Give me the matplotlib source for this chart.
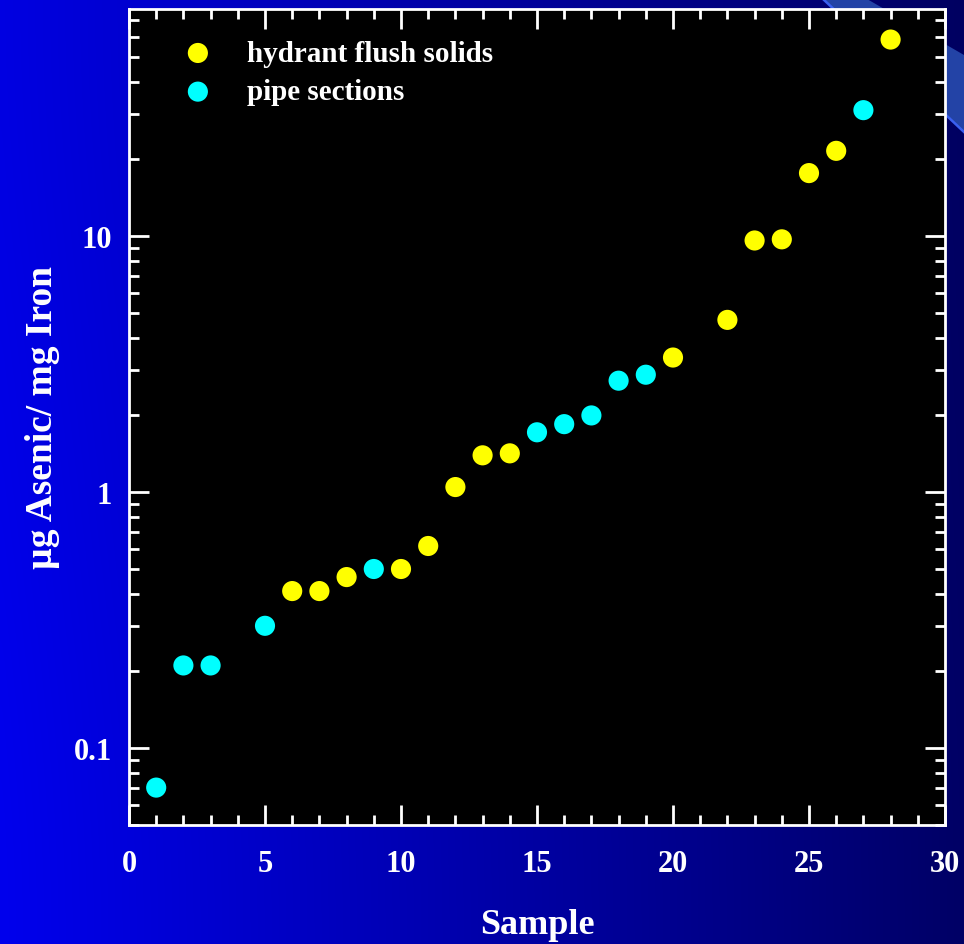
import numpy as np
import matplotlib
matplotlib.use("Agg")
import matplotlib.pyplot as plt
from matplotlib.ticker import MultipleLocator, LogLocator, NullFormatter, FixedLocator, FixedFormatter
from matplotlib.patches import Polygon

# Data
hydrant_x = [6, 7, 8, 10, 11, 12, 13, 14, 20, 22, 23, 24, 25, 26, 28]
hydrant_y = [0.41, 0.41, 0.465, 0.50, 0.615, 1.045, 1.39, 1.415, 3.35, 4.7, 9.6, 9.7, 17.6, 21.5, 58.5]
pipe_x = [1, 2, 3, 5, 9, 15, 16, 17, 18, 19, 27]
pipe_y = [0.07, 0.21, 0.21, 0.30, 0.50, 1.71, 1.84, 1.99, 2.72, 2.87, 31.0]
series_labels = ["hydrant flush solids", "pipe sections"]
xtick_vals = [0, 5, 10, 15, 20, 25, 30]
ytick_vals = [0.1, 1, 10]
ytick_labels = ["0.1", "1", "10"]
x_label = "Sample"
y_label = "\u00b5g Asenic/ mg Iron"

plt.rcParams['font.family'] = ['Liberation Serif', 'DejaVu Serif']
plt.rcParams['font.weight'] = 'bold'

W, H = 964, 945
fig = plt.figure(figsize=(W / 100, H / 100), dpi=100)

# Background gradient
bg = fig.add_axes([0, 0, 1, 1], zorder=-10)
grad = np.linspace(0, 1, 256)[None, :]
c0 = np.array([0.0, 0.0, 0.93])
c1 = np.array([0.0, 0.0, 0.40])
img = c0[None, None, :] * (1 - grad[..., None]) + c1[None, None, :] * grad[..., None]
img = np.repeat(img, 4, axis=0)
vert = np.linspace(0, 1, 4)[:, None, None]
img = img * (1 - 0.05 * vert)
bg.imshow(img, aspect='auto', extent=[0, W, 0, H], interpolation='bicubic')
bg.set_xlim(0, W)
bg.set_ylim(H, 0)
bg.axis('off')
# decorative swoosh top-right
bg.add_patch(Polygon([[823, 0], [867, 0], [964, 56], [964, 133]], closed=True,
                     facecolor='#2343a6', edgecolor='none'))
bg.plot([823, 964], [0, 133], color='#3a60f0', lw=1.8)

l, r, b, t = 129 / W, 945 / W, 1 - 826 / H, 1 - 10 / H
ax = fig.add_axes([l, b, r - l, t - b])
ax.set_facecolor('black')

ax.scatter(hydrant_x, hydrant_y, s=210, color='#ffff00', edgecolors='none', label=series_labels[0], zorder=3)
ax.scatter(pipe_x, pipe_y, s=210, color='#00ffff', edgecolors='none', label=series_labels[1], zorder=3)

ax.set_yscale('log')
ax.set_xlim(0, 30)
ax.set_ylim(0.05, 77)

ax.xaxis.set_major_locator(FixedLocator(xtick_vals))
ax.xaxis.set_minor_locator(MultipleLocator(1))
ax.yaxis.set_major_locator(FixedLocator(ytick_vals))
ax.yaxis.set_major_formatter(FixedFormatter(ytick_labels))
ax.yaxis.set_minor_locator(LogLocator(base=10, subs=np.arange(2, 10)))
ax.yaxis.set_minor_formatter(NullFormatter())

for s in ax.spines.values():
    s.set_color('white')
    s.set_linewidth(2.0)

ax.tick_params(which='both', direction='in', top=True, right=True, colors='white', width=2.0)
ax.tick_params(which='major', length=14.5, labelsize=22)
ax.tick_params(which='minor', length=7.5)
ax.tick_params(axis='x', which='major', pad=17)
ax.tick_params(axis='y', which='major', pad=12)
for lab in ax.get_xticklabels() + ax.get_yticklabels():
    lab.set_fontweight('bold')

ax.set_xlabel(x_label, fontsize=26, fontweight='bold', color='white', labelpad=22)
ax.set_ylabel(y_label, fontsize=27, fontweight='bold', color='white', labelpad=10)

leg = ax.legend(loc='upper left', bbox_to_anchor=(0.029, 1.0), frameon=False,
                prop={'family': 'Liberation Serif', 'weight': 'bold', 'size': 21},
                handlelength=1.0, handletextpad=1.2, labelspacing=0.40, borderaxespad=0.65)
for txt in leg.get_texts():
    txt.set_color('white')

fig.savefig('out.png', dpi=100)
